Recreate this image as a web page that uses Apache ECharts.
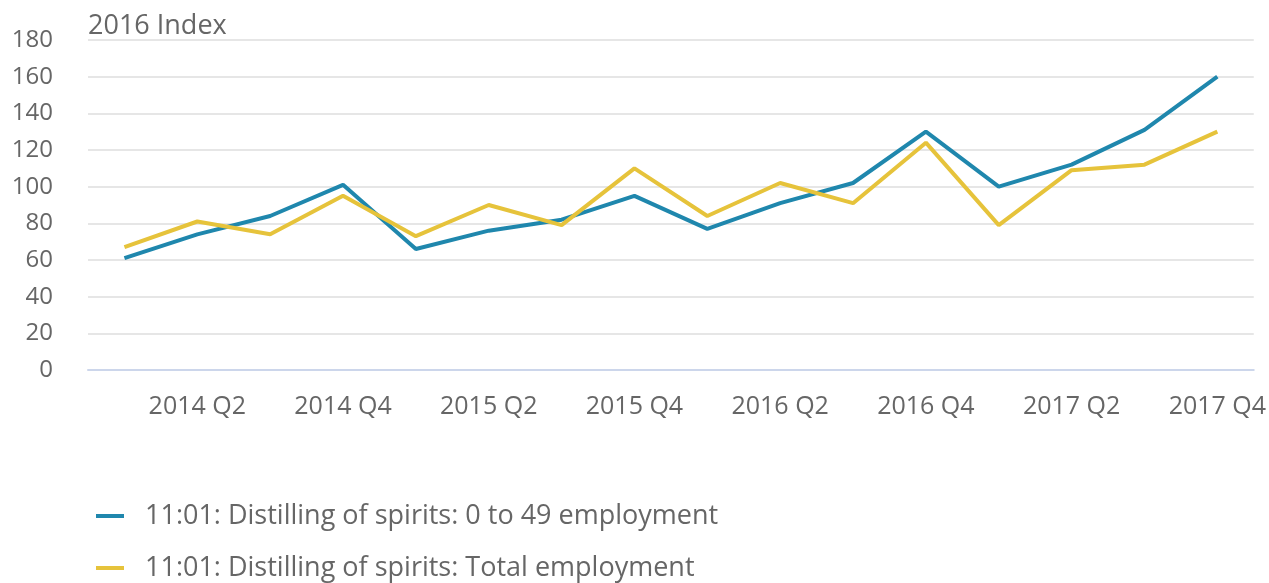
<!DOCTYPE html>
<html>
<head>
<meta charset="utf-8">
<script src="https://cdn.jsdelivr.net/npm/echarts@6/dist/echarts.min.js"></script>
<style>
html,body{margin:0;padding:0;background:#fff;}
#chart{width:1269px;height:583px;}
</style>
</head>
<body>
<div id="chart"></div>
<script>
const categories = ["2014 Q1","2014 Q2","2014 Q3","2014 Q4","2015 Q1","2015 Q2","2015 Q3","2015 Q4","2016 Q1","2016 Q2","2016 Q3","2016 Q4","2017 Q1","2017 Q2","2017 Q3","2017 Q4"];
const smallEmployment = [61, 74, 84, 101, 66, 76, 82, 95, 77, 91, 102, 130, 100, 112, 131, 160];
const totalEmployment = [67, 81, 74, 95, 73, 90, 79, 110, 84, 102, 91, 124, 79, 109, 112, 130];
const seriesNames = ["11:01: Distilling of spirits: 0 to 49 employment", "11:01: Distilling of spirits: Total employment"];
const yTitle = "2016 Index";

const FONT = '"Open Sans", sans-serif';
const chart = echarts.init(document.getElementById('chart'), null, {renderer: 'canvas'});
chart.setOption({
  animation: false,
  backgroundColor: '#ffffff',
  color: ['#1f87ad', '#e6c33b'],
  title: {
    text: yTitle,
    left: 83,
    top: 8,
    textStyle: {fontFamily: FONT, fontSize: 27, fontWeight: 'normal', color: '#666666'}
  },
  grid: {left: 88, right: 14, top: 40, bottom: 213, containLabel: false},
  legend: {
    orient: 'vertical',
    left: 96,
    top: 501,
    padding: 0,
    height: 90,
    itemGap: 22,
    itemWidth: 28,
    itemHeight: 4,
    icon: 'rect',
    textStyle: {fontFamily: FONT, fontSize: 27, color: '#666666', lineHeight: 30, padding: [0, 0, 0, 16]},
    data: seriesNames
  },
  xAxis: {
    type: 'category',
    data: categories,
    boundaryGap: true,
    axisLine: {lineStyle: {color: '#ccd6eb', width: 2}},
    axisTick: {
      alignWithLabel: true,
      length: 21,
      interval: function (i) { return i % 2 === 1; },
      lineStyle: {color: '#ccd6eb', width: 2}
    },
    axisLabel: {
      interval: function (i) { return i % 2 === 1; },
      margin: 24,
      fontFamily: FONT,
      fontSize: 25,
      color: '#666666'
    },
    splitLine: {show: false}
  },
  yAxis: {
    type: 'value',
    min: 0,
    max: 180,
    interval: 20,
    axisLine: {show: false},
    axisTick: {show: false},
    axisLabel: {margin: 35, fontFamily: FONT, fontSize: 24, color: '#666666'},
    splitLine: {lineStyle: {color: '#e6e6e6', width: 2}}
  },
  series: [
    {name: seriesNames[0], type: 'line', data: smallEmployment, symbol: 'none', lineStyle: {width: 4}},
    {name: seriesNames[1], type: 'line', data: totalEmployment, symbol: 'none', lineStyle: {width: 4}}
  ]
});
</script>
</body>
</html>
